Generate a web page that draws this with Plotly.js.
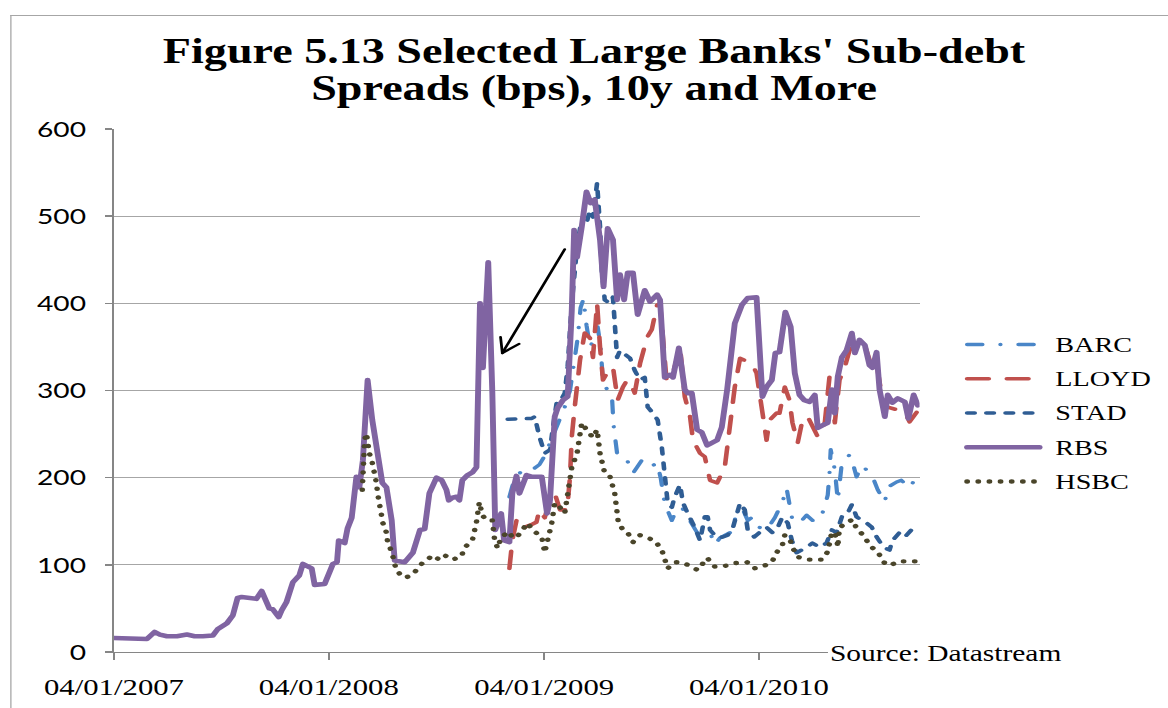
<!DOCTYPE html>
<html>
<head>
<meta charset="utf-8">
<script src="https://cdn.plot.ly/plotly-3.0.1.min.js"></script>
<style>
  html, body { margin: 0; padding: 0; background: #fff; overflow: hidden; width: 1168px; height: 708px; }
  /* the chart is laid out on a narrower stage and widened horizontally */
  #stage { position: absolute; left: 0; top: 0; width: 912px; height: 708px; transform: scaleX(1.2807); transform-origin: 0 0; }
  #chart { position: absolute; left: 0; top: 0; width: 912px; height: 708px; }
  #frame { position: absolute; left: 7.8px; top: 15px; width: 1000px; height: 800px;
           border-left: 1.6px solid #A6A6A6; border-top: 1.6px solid #A6A6A6; pointer-events: none; }
  #chart .js-line, #chart .shapelayer path { stroke-linecap: round; stroke-linejoin: round; }
</style>
</head>
<body>
<div id="stage">
  <div id="chart"></div>
  <div id="frame"></div>
</div>
<script>
// Sub-debt spreads (bps) of selected large banks, weekly observations
const seriesNames = ['BARC', 'LLOYD', 'STAD', 'RBS', 'HSBC'];

const barcDates = ['2008-11-06','2008-11-15','2008-11-23','2008-12-05','2008-12-19','2008-12-27',
  '2009-01-05','2009-01-14','2009-01-22','2009-01-31','2009-02-08','2009-02-17','2009-02-25','2009-03-02',
  '2009-03-07','2009-03-12','2009-03-17','2009-03-23','2009-03-29','2009-04-05','2009-04-10','2009-04-14',
  '2009-04-22','2009-04-29','2009-05-02','2009-05-08','2009-05-21','2009-06-04','2009-06-19','2009-07-03',
  '2009-07-15','2009-07-21','2009-07-28','2009-08-09','2009-08-17','2009-08-26','2009-09-05','2009-09-21',
  '2009-10-13','2009-10-21','2009-10-30','2009-11-16','2009-11-28','2009-12-08','2009-12-16','2009-12-25',
  '2010-01-05','2010-01-17','2010-01-31','2010-02-13','2010-02-20','2010-02-25','2010-03-02','2010-03-14',
  '2010-03-26','2010-04-05','2010-04-17','2010-04-24','2010-05-01','2010-05-04','2010-05-06','2010-05-13',
  '2010-05-18','2010-05-25','2010-06-07','2010-06-12','2010-06-19','2010-06-28','2010-07-06','2010-07-15',
  '2010-07-25','2010-08-06','2010-08-11','2010-08-26','2010-09-03','2010-09-17','2010-09-26'];
const barcValues = [178,200,205,212,211,215,
  225,240,255,270,281,300,335,360,
  395,405,375,350,358,373,350,310,
  300,297,260,228,226,205,220,212,
  217,200,170,151,163,166,155,137,
  137,123,131,137,159,163,151,155,
  143,140,154,172,188,171,151,148,
  157,151,151,163,180,205,232,209,
  174,217,226,218,201,214,209,203,
  186,172,189,195,197,188,198];

const lloydDates = ['2008-11-06','2008-11-11','2008-11-19','2008-12-01','2008-12-13','2008-12-22','2008-12-27',
  '2009-01-05','2009-01-10','2009-01-22','2009-01-31','2009-02-12','2009-02-17','2009-02-20','2009-02-25',
  '2009-03-06','2009-03-14','2009-03-23','2009-03-28','2009-04-04','2009-04-09','2009-04-14','2009-04-21',
  '2009-05-01','2009-05-09','2009-05-18','2009-05-25','2009-06-02','2009-06-07','2009-06-16','2009-06-28',
  '2009-07-06','2009-07-15','2009-07-20','2009-07-31','2009-08-11','2009-08-23','2009-08-31','2009-09-09',
  '2009-09-14','2009-09-26','2009-10-04','2009-10-13','2009-10-25','2009-11-07','2009-11-16','2009-11-24',
  '2009-12-03','2009-12-23','2009-12-31','2010-01-05','2010-01-10','2010-01-17','2010-01-22','2010-02-03',
  '2010-02-08','2010-02-17','2010-02-25','2010-03-02','2010-03-11','2010-03-19','2010-03-28','2010-04-05',
  '2010-04-14','2010-04-26','2010-05-04','2010-05-13','2010-05-21','2010-05-30','2010-06-07','2010-06-19',
  '2010-07-03','2010-07-15','2010-07-23','2010-08-04','2010-08-11','2010-08-26','2010-09-09','2010-09-17',
  '2010-09-29'];
const lloydValues = [96,128,154,143,146,149,163,
  154,166,182,163,163,201,247,281,
  335,366,360,338,400,350,312,320,
  327,289,304,312,305,297,331,361,
  370,398,400,312,320,350,293,270,
  243,228,224,197,194,212,258,304,
  337,331,320,297,274,243,266,274,
  274,304,289,263,240,266,270,258,
  247,263,316,263,312,327,346,354,
  352,327,331,281,281,278,275,264,
  275];

const stadDates = ['2008-11-03','2008-12-14','2008-12-19','2008-12-27','2009-01-05','2009-01-14','2009-01-19',
  '2009-01-26','2009-02-03','2009-02-08','2009-02-13','2009-02-20','2009-03-01','2009-03-06','2009-03-17',
  '2009-03-23','2009-03-28','2009-04-04','2009-04-09','2009-04-12','2009-04-17','2009-04-26','2009-05-01',
  '2009-05-04','2009-05-08','2009-05-13','2009-05-30','2009-06-07','2009-06-16','2009-06-24','2009-06-29',
  '2009-07-08','2009-07-16','2009-07-23','2009-07-28','2009-08-02','2009-08-09','2009-08-14','2009-08-23',
  '2009-08-28','2009-09-05','2009-09-17','2009-09-26','2009-10-04','2009-10-09','2009-10-13','2009-10-25',
  '2009-11-04','2009-11-12','2009-11-21','2009-12-03','2009-12-11','2009-12-16','2009-12-27','2010-01-05',
  '2010-01-17','2010-01-27','2010-02-05','2010-02-13','2010-02-22','2010-03-01','2010-03-09','2010-03-26',
  '2010-04-05','2010-04-17','2010-04-29','2010-05-08','2010-05-16','2010-05-25','2010-06-02','2010-06-11',
  '2010-06-19','2010-07-06','2010-07-15','2010-07-23','2010-08-04','2010-08-14','2010-08-19','2010-08-31',
  '2010-09-09','2010-09-20','2010-10-01'];
const stadValues = [267,268,270,247,228,232,258,
  289,291,297,327,400,465,486,492,
  507,499,538,488,438,404,400,407,
  373,338,346,337,323,312,315,281,
  274,266,235,197,171,166,178,192,
  171,159,143,128,155,155,140,131,
  132,134,143,171,163,140,132,137,
  143,137,143,155,148,128,114,120,
  125,120,125,140,137,155,157,169,
  155,148,143,132,120,117,128,137,
  132,140,146];

const rbsDates = ['2007-01-04','2007-01-22','2007-02-08','2007-03-01','2007-03-14','2007-03-23','2007-04-04',
  '2007-04-21','2007-05-08','2007-05-21','2007-06-04','2007-06-21','2007-06-29','2007-07-15','2007-07-25',
  '2007-08-02','2007-08-09','2007-08-28','2007-09-03','2007-09-12','2007-09-19','2007-09-25','2007-10-01',
  '2007-10-11','2007-10-16','2007-10-24','2007-11-04','2007-11-15','2007-11-21','2007-12-06','2007-12-11',
  '2007-12-28','2008-01-11','2008-01-18','2008-01-21','2008-01-31','2008-02-05','2008-02-12','2008-02-20',
  '2008-02-25','2008-03-02','2008-03-10','2008-03-18','2008-03-27','2008-04-04','2008-04-11','2008-04-20',
  '2008-04-25','2008-05-12','2008-05-26','2008-06-07','2008-06-15','2008-06-23','2008-07-05','2008-07-14',
  '2008-07-22','2008-07-26','2008-08-01','2008-08-08','2008-08-13','2008-08-18','2008-08-27','2008-09-04',
  '2008-09-11','2008-09-17','2008-09-22','2008-10-01','2008-10-08','2008-10-13','2008-10-23','2008-10-28',
  '2008-11-06','2008-11-11','2008-11-18','2008-11-23','2008-12-05','2008-12-15','2008-12-31','2009-01-09',
  '2009-01-14','2009-01-19','2009-01-22','2009-01-27','2009-02-05','2009-02-13','2009-02-20','2009-02-24',
  '2009-03-01','2009-03-09','2009-03-17','2009-03-24','2009-03-31','2009-04-09','2009-04-15','2009-04-22',
  '2009-05-01','2009-05-08','2009-05-13','2009-05-20','2009-05-26','2009-06-04','2009-06-12','2009-06-24',
  '2009-07-03','2009-07-15','2009-07-20','2009-07-28','2009-08-06','2009-08-11','2009-08-21','2009-08-31',
  '2009-09-05','2009-09-12','2009-09-21','2009-09-29','2009-10-08','2009-10-25','2009-11-02','2009-11-11',
  '2009-11-16','2009-11-24','2009-12-06','2009-12-16','2009-12-31','2010-01-05','2010-01-10','2010-01-17',
  '2010-01-26','2010-02-01','2010-02-08','2010-02-18','2010-02-27','2010-03-06','2010-03-14','2010-03-22',
  '2010-03-31','2010-04-09','2010-04-14','2010-04-22','2010-05-01','2010-05-08','2010-05-13','2010-05-18',
  '2010-05-25','2010-06-02','2010-06-11','2010-06-16','2010-06-24','2010-07-03','2010-07-11','2010-07-16',
  '2010-07-23','2010-07-28','2010-08-06','2010-08-11','2010-08-19','2010-08-28','2010-09-09','2010-09-15',
  '2010-09-24','2010-10-01'];
const rbsValues = [16,16,15,15,23,20,18,
  18,20,18,18,19,26,33,42,
  62,63,61,61,70,60,50,49,
  40,48,57,80,88,101,96,77,
  78,101,103,128,125,142,154,201,
  189,220,312,266,228,194,189,151,
  105,103,114,140,141,182,200,197,
  186,174,177,178,174,197,203,206,
  212,400,326,447,297,140,159,128,
  126,182,202,182,203,201,201,159,
  174,228,270,280,289,293,392,484,
  453,488,528,515,519,473,419,486,
  473,404,433,404,435,435,387,415,
  402,410,404,315,318,315,349,301,
  297,297,255,252,237,243,258,301,
  335,377,398,406,407,346,293,304,
  312,343,344,390,373,320,295,289,
  287,295,257,260,263,301,274,316,
  338,346,366,343,358,352,329,326,
  344,301,270,295,286,291,287,268,
  295,283];

const hsbcDates = ['2008-03-01','2008-03-05','2008-03-08','2008-03-13','2008-03-18','2008-03-22','2008-03-25',
  '2008-03-27','2008-03-30','2008-04-03','2008-04-05','2008-04-11','2008-04-13','2008-04-20','2008-04-25',
  '2008-04-28','2008-05-12','2008-05-24','2008-06-01','2008-06-11','2008-06-20','2008-06-28','2008-07-10',
  '2008-07-19','2008-07-31','2008-08-16','2008-08-22','2008-09-04','2008-09-11','2008-09-16','2008-09-21',
  '2008-09-28','2008-10-08','2008-10-12','2008-10-17','2008-10-23','2008-11-06','2008-11-11','2008-11-19',
  '2008-12-01','2008-12-07','2008-12-15','2008-12-31','2009-01-05','2009-01-10','2009-01-17','2009-01-22',
  '2009-01-31','2009-02-08','2009-02-13','2009-02-20','2009-03-01','2009-03-09','2009-03-17','2009-03-28',
  '2009-04-04','2009-04-09','2009-04-17','2009-04-26','2009-05-04','2009-05-08','2009-05-10','2009-05-18',
  '2009-05-25','2009-06-04','2009-06-16','2009-06-28','2009-07-11','2009-07-23','2009-07-28','2009-08-02',
  '2009-08-14','2009-08-26','2009-09-05','2009-09-22','2009-10-08','2009-10-21','2009-11-04','2009-11-24',
  '2009-12-15','2009-12-27','2010-01-10','2010-01-26','2010-02-03','2010-02-13','2010-02-17','2010-02-25',
  '2010-03-02','2010-03-11','2010-03-28','2010-04-21','2010-05-01','2010-05-04','2010-05-08','2010-05-16',
  '2010-05-18','2010-05-21','2010-06-04','2010-06-12','2010-06-19','2010-07-03','2010-07-11','2010-07-25',
  '2010-08-04','2010-08-14','2010-08-29','2010-09-12','2010-09-29'];
const hsbcValues = [186,243,251,228,217,205,194,
  182,171,159,148,137,126,115,103,
  93,85,88,94,102,106,111,106,
  111,106,109,120,128,149,172,157,
  151,151,128,119,132,138,131,132,
  143,148,140,132,114,128,148,171,
  166,159,182,212,228,263,255,246,
  255,228,205,201,182,163,149,140,
  138,126,134,131,128,117,106,96,
  103,103,100,94,108,98,98,102,
  103,96,98,103,114,123,134,131,
  120,109,106,106,115,126,138,132,
  120,143,148,152,142,132,122,115,
  103,99,104,104,104];

const seriesDates  = { BARC: barcDates,  LLOYD: lloydDates,  STAD: stadDates,  RBS: rbsDates,  HSBC: hsbcDates };
const seriesValues = { BARC: barcValues, LLOYD: lloydValues, STAD: stadValues, RBS: rbsValues, HSBC: hsbcValues };

const xTickDates  = ['2007-01-04', '2008-01-04', '2009-01-04', '2010-01-04'];
const xTickLabels = ['04/01/2007', '04/01/2008', '04/01/2009', '04/01/2010'];
const xRange = ['2007-01-04', '2010-10-04'];
const yTickValues = [0, 100, 200, 300, 400, 500, 600];

const titleLines = ["Figure 5.13 Selected Large Banks' Sub-debt", 'Spreads (bps), 10y and More'];
const sourceNote = 'Source: Datastream';

// arrow pointing at the September 2008 RBS spike
const arrowTail = { date: '2009-02-08', value: 462 };
const arrowHead = { date: '2008-10-25', value: 343 };

// ---- styling ----
const SERIF = '"Liberation Serif", "Times New Roman", Times, serif';
const SANS = 'Lato, Carlito, "Liberation Sans", sans-serif';
const lineStyles = {
  BARC:  { color: '#4A86C8', width: 3.3, dash: '12px,14px,0.1px,14px' },
  LLOYD: { color: '#C0504D', width: 3.6, dash: '17px,14px' },
  STAD:  { color: '#2F5D94', width: 3.6, dash: '6px,9px' },
  RBS:   { color: '#8064A2', width: 4.6, dash: 'solid' },
  HSBC:  { color: '#4A452A', width: 4.4, dash: '0.1px,8.6px' }
};

const traces = seriesNames.map(name => ({
  type: 'scatter',
  mode: 'lines',
  name: name,
  x: seriesDates[name],
  y: seriesValues[name],
  line: Object.assign({ shape: 'linear' }, lineStyles[name]),
  showlegend: false,
  hoverinfo: 'skip'
}));

// hand-drawn legend to the right of the plot
const legendTop = 0.588, legendStep = 0.0655;
const legendShapes = [], legendLabels = [];
seriesNames.forEach((name, i) => {
  const y = legendTop - i * legendStep;
  legendShapes.push({
    type: 'line', xref: 'paper', yref: 'paper',
    x0: 1.059, x1: 1.149, y0: y, y1: y,
    line: { color: lineStyles[name].color, width: lineStyles[name].width, dash: lineStyles[name].dash }
  });
  legendLabels.push({
    xref: 'paper', yref: 'paper', x: 1.166, y: y, xanchor: 'left', yanchor: 'middle',
    text: name, showarrow: false, font: { family: SERIF, size: 22, color: '#000' }
  });
});

const arrowShapes = [
  { type: 'line', xref: 'x', yref: 'y',
    x0: arrowTail.date, y0: arrowTail.value, x1: arrowHead.date, y1: arrowHead.value,
    line: { color: '#000', width: 2.2 } },
  { type: 'path', xref: 'x', yref: 'y', xsizemode: 'pixel', ysizemode: 'pixel',
    xanchor: arrowHead.date, yanchor: arrowHead.value,
    path: 'M13.1,9.2 L0,0 L-1.4,16', line: { color: '#000', width: 2.2 } }
];

const layout = {
  width: 912, height: 708,
  margin: { l: 89, r: 194, t: 129, b: 56, pad: 0 },
  paper_bgcolor: '#fff', plot_bgcolor: '#fff',
  showlegend: false,
  title: {
    text: titleLines[0], xref: 'container', yref: 'container',
    x: 0.5086, xanchor: 'center', y: 0.9294, yanchor: 'middle',
    font: { family: SERIF, size: 36, weight: 'bold', color: '#000' }
  },
  xaxis: {
    type: 'date', range: xRange,
    tickvals: xTickDates, ticktext: xTickLabels,
    showgrid: false, zeroline: false,
    showline: true, linecolor: '#868686', linewidth: 1.4,
    ticks: 'outside', ticklen: 7, tickwidth: 1.4, tickcolor: '#868686',
    ticklabelstandoff: 6,
    tickfont: { family: SERIF, size: 24, color: '#000' }
  },
  yaxis: {
    range: [0, 600], tickvals: yTickValues,
    showgrid: true, gridcolor: '#A6A6A6', gridwidth: 1.3,
    zeroline: false,
    showline: true, linecolor: '#868686', linewidth: 1.4,
    ticks: 'outside', ticklen: 6, tickwidth: 1.4, tickcolor: '#868686',
    ticklabelstandoff: 10,
    tickfont: { family: SANS, size: 22, color: '#000' }
  },
  shapes: legendShapes.concat(arrowShapes),
  annotations: legendLabels.concat([
    { xref: 'paper', yref: 'paper', x: 0.596, y: 1.078, xanchor: 'center', yanchor: 'middle',
      text: titleLines[1], showarrow: false,
      font: { family: SERIF, size: 36, weight: 'bold', color: '#000' } },
    { xref: 'paper', yref: 'paper', x: 1.032, y: -0.002, xanchor: 'center', yanchor: 'middle',
      text: sourceNote, showarrow: false, bgcolor: '#fff', borderpad: 1,
      font: { family: SERIF, size: 23, color: '#000' } }
  ])
};

Plotly.newPlot('chart', traces, layout, { staticPlot: true, displayModeBar: false });
</script>
</body>
</html>
